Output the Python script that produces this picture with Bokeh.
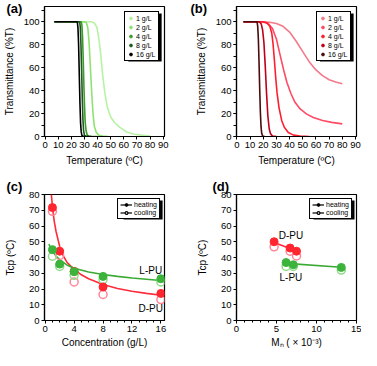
from bokeh.plotting import figure
from bokeh.models import Range1d, SingleIntervalTicker, Label, Legend, LegendItem
from bokeh.layouts import gridplot
from bokeh.embed import file_html
from bokeh.resources import INLINE

FONT = "Liberation Sans"
NAN = float("nan")

# ---------------- data ----------------
# (a) L-PU: transmittance (%T) vs temperature (ºC)
a_t_1 = [7, 35, 37.5, 39.5, 41, 42.5, 44, 45.5, 47.5, 50, 53, 57, 62, 68, 75, 80]
a_T_1 = [100, 100, 99, 95, 85, 70, 52, 38, 25, 17, 12, 8, 4, 2, 1, 0.5]
a_t_2 = [7, 30, 31.5, 32.5, 33.5, 34.5, 35.5, 36.5, 37.5, 39, 41, 44, 48]
a_T_2 = [100, 100, 99, 95, 82, 60, 38, 20, 9, 3.5, 1, 0.3, 0]
a_t_4 = [7, 27.5, 28, 28.5, 29, 29.5, 30, 30.5, 31.2, 32, 33, 36, 40]
a_T_4 = [100, 100, 97, 87, 68, 46, 27, 13, 5, 1.5, 0.5, 0, 0]
a_t_8 = [7, 26.3, 26.8, 27.3, 27.8, 28.3, 28.8, 29.3, 30, 31, 35]
a_T_8 = [100, 100, 95, 80, 58, 34, 15, 5, 1, 0.2, 0]
a_t_16 = [7, 24.5, 25, 25.5, 26, 26.5, 27, 27.5, 28, 29, 33]
a_T_16 = [100, 100, 95, 80, 55, 30, 12, 4, 1, 0.2, 0]

# (b) D-PU: transmittance (%T) vs temperature (ºC)
b_t_1 = [5, 20, 25, 30, 35, 40, 45, 50, 55, 60, 65, 70, 75, 80]
b_T_1 = [100, 100, 99.5, 98.5, 96, 91, 83, 74, 65, 58, 53, 49.5, 47.5, 46]
b_t_2 = [5, 18, 21, 24, 27, 30, 33, 35.5, 38, 41, 44, 48, 53, 58, 65, 72, 80]
b_T_2 = [100, 100, 99.5, 98, 94, 85, 70, 58, 47, 37.5, 30, 24, 19.5, 16.5, 14, 12.3, 11]
b_t_4 = [5, 20, 23, 25, 26.5, 27.5, 28.5, 29.5, 30.5, 32, 34, 36, 39, 43, 48, 55]
b_T_4 = [100, 100, 99, 96, 90, 80, 66, 51, 38, 25, 14, 8, 3.5, 1.2, 0.3, 0]
b_t_8 = [5, 17, 18.5, 19.5, 20.5, 21.5, 22.5, 23.5, 24.5, 25.5, 27, 30]
b_T_8 = [100, 100, 98, 93, 82, 62, 38, 18, 7, 2.5, 0.5, 0]
b_t_16 = [5, 15.3, 15.8, 16.3, 16.8, 17.3, 17.8, 18.3, 18.8, 19.5, 21]
b_T_16 = [100, 100, 96, 85, 65, 42, 22, 9, 3, 0.5, 0]

conc_labels = ["1 g/L", "2 g/L", "4 g/L", "8 g/L", "16 g/L"]
green_cols = ["#b8f2a4", "#8fe272", "#3c9c2c", "#1d5a1d", "#000000"]
red_cols = ["#f27a8c", "#ff4a64", "#ff1e2e", "#c00018", "#4a0c0c"]

# (c) Tcp vs concentration (g/L)
conc = [1, 2, 4, 8, 16]
c_dpu_heat = [71.7, 44.0, 31.2, 21.3, 17.2]
c_dpu_cool = [69.3, 41.3, 24.5, 16.5, 13.3]
c_lpu_heat = [45.0, 35.8, 31.0, 28.0, 26.5]
c_lpu_cool = [40.8, 34.3, 28.7, 26.0, 24.5]
c_dpu_fit_x = [0.85, 1, 1.25, 1.5, 2, 2.5, 3, 4, 5, 6, 8, 10, 12, 14, 16.3]
c_dpu_fit_y = [80, 72, 63, 56.5, 47, 41, 37, 32.5, 29, 26.5, 22.8, 20.3, 18.6, 17.2, 15.9]
c_lpu_fit_x = [0.5, 1, 1.5, 2, 3, 4, 6, 8, 10, 12, 14, 16.3]
c_lpu_fit_y = [48.5, 44, 41, 38.5, 35.3, 33.2, 30.8, 29.2, 28, 27, 26.2, 25.2]

# (d) Tcp vs Mn (x 10^-3)
d_mn_dpu = [4.7, 6.7, 7.5]
d_dpu_heat = [50.0, 46.0, 44.0]
d_dpu_cool = [46.8, 44.0, 41.0]
d_mn_lpu = [6.2, 7.1, 13.1]
d_lpu_heat = [36.8, 35.4, 33.7]
d_lpu_cool = [34.3, 34.3, 32.0]
d_dpu_fit_x = [4.7, 7.5]
d_dpu_fit_y = [49.6, 44.1]
d_lpu_fit_x = [6.2, 13.1]
d_lpu_fit_y = [36.3, 33.8]

RED = "#ff2630"
RED_OPEN = "#ff8597"
GREEN = "#3cb43c"
GREEN_OPEN = "#92da8a"
RED_LINE = "#ff2a3a"
GREEN_LINE = "#3aaa35"


# ---------------- helpers ----------------
class Panel:
    def __init__(self, width, height, bl, br, bt, bb, xr, yr):
        self.bl, self.bt = bl, bt
        self.fw = width - bl - br
        self.fh = height - bt - bb
        self.xr, self.yr = xr, yr
        p = figure(width=width, height=height, x_range=Range1d(*xr), y_range=Range1d(*yr),
                   output_backend="svg", toolbar_location=None,
                   min_border_left=bl, min_border_right=br, min_border_top=bt, min_border_bottom=bb)
        p.xgrid.visible = False
        p.ygrid.visible = False
        p.outline_line_color = "black"
        p.outline_line_width = 1.2
        p.outline_line_alpha = 1
        p.background_fill_color = "white"
        p.border_fill_color = "white"
        for ax in (p.xaxis[0], p.yaxis[0]):
            ax.axis_line_color = "black"
            ax.axis_line_width = 1.2
            ax.major_tick_line_color = "black"
            ax.minor_tick_line_color = "black"
            ax.major_tick_out = 3
            ax.major_tick_in = 0
            ax.minor_tick_out = 2
            ax.minor_tick_in = 0
            ax.major_label_text_font = FONT
            ax.major_label_text_font_size = "9.5px"
            ax.major_label_text_color = "black"
            ax.major_label_standoff = 2
            ax.axis_label_text_font = FONT
            ax.axis_label_text_font_size = "10px"
            ax.axis_label_text_font_style = "normal"
            ax.axis_label_text_color = "black"
            ax.axis_label_standoff = 4
        self.p = p

    def fx(self, px):
        x0, x1 = self.xr
        return x0 + (px - self.bl) * (x1 - x0) / self.fw

    def fy(self, py):
        y0, y1 = self.yr
        return y1 - (py - self.bt) * (y1 - y0) / self.fh

    def tag(self, text, px, standoff):
        t = self.p.title
        t.text = text
        t.align = "left"
        t.offset = px - self.bl
        t.standoff = standoff
        t.text_font = FONT
        t.text_font_size = "13px"
        t.text_font_style = "bold"
        t.text_color = "black"

    def shadow(self, left, top, w, h, off=2):
        # drop shadow of the legend box (layout decoration)
        self.p.quad(left=[self.fx(left + off)], right=[self.fx(left + w + off)],
                    top=[self.fy(top + off)], bottom=[self.fy(top + h + off)],
                    fill_color="black", line_alpha=0)


def style_legend(lg):
    lg.label_text_font = FONT
    lg.label_text_color = "black"
    lg.border_line_color = "black"
    lg.border_line_width = 1
    lg.border_line_alpha = 1
    lg.background_fill_color = "white"
    lg.background_fill_alpha = 1
    lg.location = "top_right"


H1, H2 = 171, 179
WL, WR = 185, 176
BT1 = 6


def curve_panel(width, bl, br, xr, series, cols, tag, tag_px):
    P = Panel(width, H1, bl, br, BT1, 35, xr, (0, 113.3))
    p = P.p
    p.xaxis.ticker = SingleIntervalTicker(interval=10, num_minor_ticks=0)
    p.yaxis.ticker = SingleIntervalTicker(interval=20, num_minor_ticks=2)
    p.yaxis.minor_tick_out = 3
    p.xaxis.axis_label = "Temperature (ºC)"
    p.yaxis.axis_label = "Transmittance (%T)"
    p.yaxis.axis_label_standoff = 6
    try:
        p.yaxis[0].axis_label_align = "left"
    except Exception:
        pass
    for (t, T), c in zip(series, cols):
        p.line(t, T, line_color=c, line_width=1.6)
    lw, lh, m = 35, 48, 5
    P.shadow(bl + P.fw - m - lw, BT1 + m, lw, lh)
    items = []
    for lab, c in zip(conc_labels, cols):
        r = p.scatter(x=[NAN], y=[NAN], size=6, fill_color=c, line_color=c, marker="circle")
        items.append(LegendItem(label=lab, renderers=[r]))
    lg = Legend(items=items)
    style_legend(lg)
    lg.label_text_font_size = "7px"
    lg.glyph_width = 7
    lg.glyph_height = 8
    lg.label_height = 8
    lg.label_width = 20
    lg.label_standoff = 2
    lg.spacing = 1
    lg.padding = 2
    lg.margin = m
    p.add_layout(lg, "center")
    P.tag(tag, tag_px, -19)
    return P


pa = curve_panel(WL, 38, 21, (-0.5, 91),
                 [(a_t_1, a_T_1), (a_t_2, a_T_2), (a_t_4, a_T_4), (a_t_8, a_T_8), (a_t_16, a_T_16)],
                 green_cols, "(a)", 0)
pb = curve_panel(WR, 46, 5, (-0.3, 90.8),
                 [(b_t_1, b_T_1), (b_t_2, b_T_2), (b_t_4, b_T_4), (b_t_8, b_T_8), (b_t_16, b_T_16)],
                 red_cols, "(b)", 0)


def tcp_panel(width, bl, br, xr, tag, tag_px):
    P = Panel(width, H2, bl, br, 23, 30, xr, (0, 80))
    p = P.p
    p.yaxis.ticker = SingleIntervalTicker(interval=10, num_minor_ticks=0)
    p.yaxis.axis_label = "Tcp (ºC)"
    p.yaxis.axis_label_standoff = 10
    p.xaxis.axis_label_standoff = 2
    P.tag(tag, tag_px, 2)
    return P


def add_tcp_legend(P, bl):
    p = P.p
    lw, lh, m = 41, 19, 4
    P.shadow(bl + P.fw - m - lw, 23 + m, lw, lh)
    r1 = p.line(x=[NAN, NAN], y=[NAN, NAN], line_color="black", line_width=1.2)
    r2 = p.scatter(x=[NAN], y=[NAN], size=7, fill_color="black", line_color="black")
    r3 = p.scatter(x=[NAN], y=[NAN], size=7, fill_color="white", line_color="black", line_width=1.2)
    lg = Legend(items=[LegendItem(label="heating", renderers=[r1, r2]),
                       LegendItem(label="cooling", renderers=[r1, r3])])
    style_legend(lg)
    lg.label_text_font_size = "7px"
    lg.glyph_width = 12
    lg.glyph_height = 7
    lg.label_height = 7
    lg.label_standoff = 2
    lg.spacing = 1
    lg.padding = 2
    lg.margin = m
    p.add_layout(lg, "center")


def in_label(p, x, y, text):
    p.add_layout(Label(x=x, y=y, text=text, text_font=FONT, text_font_size="10px",
                       text_align="center", text_baseline="middle", text_color="black"))


# (c)
pc = tcp_panel(WL, 38, 21, (-0.1, 16.5), "(c)", 0)
p = pc.p
p.xaxis.ticker = SingleIntervalTicker(interval=4, num_minor_ticks=4)
p.xaxis.axis_label = "Concentration (g/L)"
p.line(c_dpu_fit_x, c_dpu_fit_y, line_color=RED_LINE, line_width=1.6)
p.line(c_lpu_fit_x, c_lpu_fit_y, line_color=GREEN_LINE, line_width=1.6)
p.scatter(conc, c_dpu_cool, size=8, fill_color="white", fill_alpha=0, line_color=RED_OPEN, line_width=1.5)
p.scatter(conc, c_lpu_cool, size=8, fill_color="white", fill_alpha=0, line_color=GREEN_OPEN, line_width=1.5)
p.scatter(conc, c_dpu_heat, size=8, fill_color=RED, line_color=RED)
p.scatter(conc, c_lpu_heat, size=8, fill_color=GREEN, line_color=GREEN)
in_label(p, 14.6, 32, "L-PU")
in_label(p, 14.6, 7.8, "D-PU")
add_tcp_legend(pc, 38)

# (d)
pd_ = tcp_panel(WR, 51, 5, (0, 15), "(d)", 27)
p = pd_.p
p.xaxis.ticker = SingleIntervalTicker(interval=5, num_minor_ticks=5)
p.xaxis.axis_label = "Mₙ ( × 10⁻³)"
p.line(d_dpu_fit_x, d_dpu_fit_y, line_color=RED_LINE, line_width=1.6)
p.line(d_lpu_fit_x, d_lpu_fit_y, line_color=GREEN_LINE, line_width=1.6)
p.scatter(d_mn_dpu, d_dpu_cool, size=8, fill_color="white", fill_alpha=0, line_color=RED_OPEN, line_width=1.5)
p.scatter(d_mn_lpu, d_lpu_cool, size=8, fill_color="white", fill_alpha=0, line_color=GREEN_OPEN, line_width=1.5)
p.scatter(d_mn_dpu, d_dpu_heat, size=8, fill_color=RED, line_color=RED)
p.scatter(d_mn_lpu, d_lpu_heat, size=8, fill_color=GREEN, line_color=GREEN)
in_label(p, 6.8, 54, "D-PU")
in_label(p, 6.8, 27, "L-PU")
add_tcp_legend(pd_, 51)

grid = gridplot([[pa.p, pb.p], [pc.p, pd_.p]], toolbar_location=None)
open("out.html", "w").write(file_html(grid, INLINE))
